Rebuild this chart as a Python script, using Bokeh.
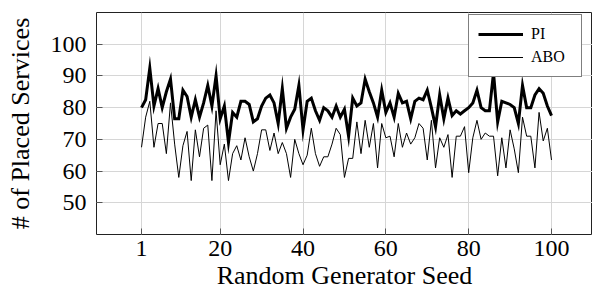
from bokeh.plotting import figure
from bokeh.models import FixedTicker, Range1d, Legend, LegendItem
from bokeh.embed import file_html
from bokeh.resources import INLINE

seeds = list(range(1, 101))
pi_vals = [80, 82.5, 92.5, 80.5, 86, 80, 85, 89, 76.5, 76.5,
           85.5, 83.5, 77, 82.5, 77, 81.5, 87, 80.5, 90, 76.5,
           80.5, 69, 78.5, 77, 82, 82, 81, 75.5, 76.5, 80.5,
           83, 84, 81.5, 75, 86, 73.5, 77, 79.5, 87, 73,
           82, 83, 79, 76, 80, 79, 77, 80.5, 77, 79.5,
           71, 83, 80.5, 81.5, 89, 85, 81.5, 77, 85.5, 78.5,
           81.5, 77, 84.5, 81.5, 82, 76.5, 82, 83, 82.5, 85.5,
           80, 74, 84, 76.5, 83, 77.5, 79, 78, 79, 80,
           81.5, 85.5, 80, 79, 79, 91, 75.5, 82, 81.5, 81,
           80, 75, 87, 80, 80, 84, 86, 84.5, 80.5, 77.5]
abo_vals = [67.5, 77, 82, 67.5, 75, 75, 65.5, 81.5, 68.5, 58,
            68, 72.5, 57, 73, 64.5, 73.5, 74.5, 57, 79, 62,
            68.5, 57, 65.5, 68, 63.5, 70.5, 64.5, 60, 65.5, 73,
            73, 66.5, 72, 65.5, 69, 65.5, 58, 70, 65.5, 62,
            65, 73.5, 65.5, 61.5, 64.5, 64.5, 68.5, 73.5, 71.5, 58,
            64, 64, 75.5, 65.5, 76, 67.5, 75, 61, 75, 70.5,
            71, 64.5, 75, 67.5, 72, 68.5, 70.5, 75, 73.5, 63.5,
            76, 61, 70.5, 67.5, 71.5, 58, 71, 71, 74, 59.5,
            70.5, 76, 70, 72, 71, 71, 58.5, 70.5, 61, 73,
            67, 59.5, 77, 71, 71, 61, 78.5, 69.5, 73.5, 63.5]
x_ticks = [1, 20, 40, 60, 80, 100]
y_ticks = [50, 60, 70, 80, 90, 100]

FONT = "Liberation Serif"
TICK_COLOR = "#555555"
GRID_COLOR = "#d6d6d6"

p = figure(width=592, height=292, output_backend="svg", toolbar_location=None,
           x_range=Range1d(-9.87, 109.9), y_range=Range1d(40, 110),
           min_border_left=96, min_border_right=0, min_border_top=12,
           min_border_bottom=0)

p.outline_line_color = "#222222"
p.outline_line_width = 1
p.background_fill_color = "white"
p.border_fill_color = "white"

for ax in (p.xaxis[0], p.yaxis[0]):
    ax.axis_line_color = None
    ax.major_tick_in = 6
    ax.major_tick_out = 0
    ax.minor_tick_line_color = None
    ax.major_tick_line_color = TICK_COLOR
    ax.major_label_text_font = FONT
    ax.major_label_text_font_size = "24px"
    ax.major_label_text_color = "black"
    ax.axis_label_text_font = FONT
    ax.axis_label_text_font_size = "26px"
    ax.axis_label_text_font_style = "normal"
    ax.axis_label_text_color = "black"

p.xaxis[0].ticker = FixedTicker(ticks=x_ticks)
p.yaxis[0].ticker = FixedTicker(ticks=y_ticks)
p.xaxis[0].axis_label = "Random Generator Seed"
p.yaxis[0].axis_label = "# of Placed Services"
p.xaxis[0].major_label_standoff = 6
p.xaxis[0].axis_label_standoff = 2
p.yaxis[0].major_label_standoff = 10
p.yaxis[0].axis_label_standoff = 13

p.xgrid.ticker = FixedTicker(ticks=x_ticks)
p.ygrid.ticker = FixedTicker(ticks=y_ticks)
p.xgrid.grid_line_color = GRID_COLOR
p.ygrid.grid_line_color = GRID_COLOR

r_pi = p.line(seeds, pi_vals, line_width=3, line_color="black", line_join="miter")
r_abo = p.line(seeds, abo_vals, line_width=1, line_color="black", line_join="miter")

legend = Legend(items=[LegendItem(label="PI", renderers=[r_pi]),
                       LegendItem(label="ABO", renderers=[r_abo])],
                location=(372, 157))
legend.label_text_font = FONT
legend.label_text_font_size = "16px"
legend.label_text_color = "black"
legend.glyph_width = 45
legend.glyph_height = 20
legend.label_height = 20
legend.label_width = 41
legend.label_standoff = 8
legend.spacing = 3
legend.padding = 9
legend.margin = 0
legend.border_line_color = "black"
legend.border_line_width = 1
legend.background_fill_color = "white"
legend.background_fill_alpha = 1.0
p.add_layout(legend)

open("out.html", "w").write(file_html(p, INLINE))
